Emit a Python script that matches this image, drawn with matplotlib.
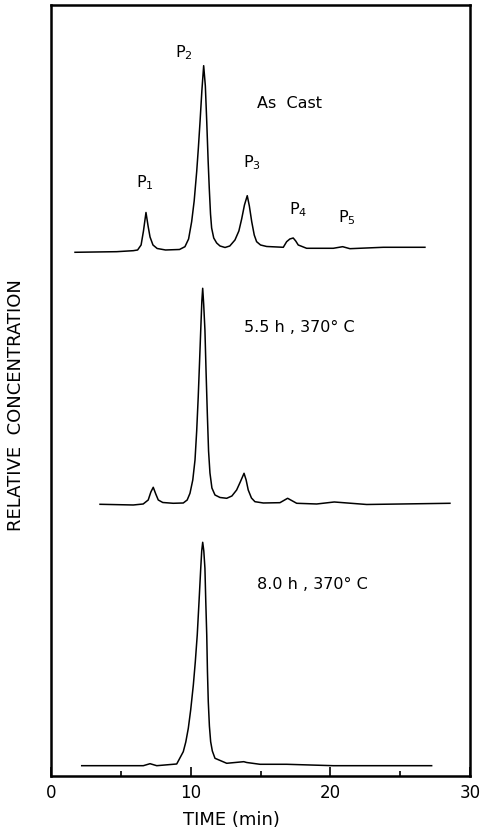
import matplotlib
matplotlib.use("Agg")
import matplotlib.pyplot as plt
from matplotlib.ticker import MultipleLocator

# traces: time (min), signal (arbitrary, offset per trace)
t_cast = [1.72, 4.70, 5.89, 6.20, 6.45, 6.62, 6.80, 6.95, 7.09, 7.30, 7.60, 8.20, 9.20,
          9.59, 9.85, 10.07, 10.25, 10.43, 10.55, 10.67, 10.80, 10.93, 11.05, 11.15, 11.25,
          11.33, 11.42, 11.50, 11.65, 11.86, 12.10, 12.46, 12.80, 13.17, 13.45, 13.65, 13.85,
          14.05, 14.20, 14.37, 14.55, 14.72, 15.00, 15.44, 16.63, 16.87, 17.10, 17.34, 17.52,
          17.70, 18.30, 20.21, 20.88, 21.40, 23.79, 26.77]
y_cast = [523.7, 524.3, 525.3, 526.0, 531.0, 545.0, 563.5, 550.0, 539.0, 531.0, 527.5, 526.0, 526.5,
          529.3, 537.0, 554.3, 575.0, 604.3, 628.0, 654.3, 685.0, 710.3, 690.0, 654.3, 615.0,
          588.0, 562.0, 548.0, 538.0, 533.0, 530.0, 528.5, 530.0, 536.0, 545.0, 557.0, 571.0,
          580.3, 570.0, 554.3, 541.0, 534.3, 531.0, 529.5, 528.7, 534.3, 537.0, 538.0, 535.0,
          531.0, 527.7, 527.7, 529.3, 527.3, 528.7, 528.7]

t_55h = [3.51, 5.89, 6.60, 6.96, 7.15, 7.32, 7.50, 7.68, 8.00, 8.75, 9.47, 9.75, 9.95,
         10.15, 10.31, 10.43, 10.54, 10.63, 10.72, 10.80, 10.86, 10.93, 11.02, 11.10, 11.19,
         11.28, 11.38, 11.52, 11.74, 12.10, 12.58, 12.95, 13.29, 13.55, 13.82, 13.97, 14.12,
         14.35, 14.60, 15.20, 16.39, 16.94, 17.59, 19.02, 20.28, 22.60, 28.56]
y_55h = [271.7, 271.0, 272.0, 276.0, 284.0, 288.7, 282.0, 276.0, 273.5, 272.7, 273.0, 276.0, 282.7,
         296.0, 316.0, 345.0, 379.0, 412.0, 446.0, 475.0, 487.7, 472.0, 446.0, 405.0, 363.0,
         325.0, 303.0, 288.0, 281.0, 278.5, 277.7, 280.0, 286.0, 294.0, 302.7, 296.0, 286.0,
         278.0, 274.3, 273.0, 273.3, 277.7, 272.7, 272.0, 274.0, 271.5, 272.7]

t_80h = [2.20, 6.61, 7.09, 7.57, 9.00, 9.47, 9.65, 9.83, 10.00, 10.19, 10.33, 10.47, 10.60,
         10.72, 10.79, 10.86, 10.94, 11.02, 11.08, 11.15, 11.20, 11.26, 11.34, 11.43, 11.55,
         11.74, 12.58, 13.80, 14.01, 14.96, 16.87, 20.21, 27.25]
y_80h = [10.3, 10.3, 12.3, 10.3, 12.0, 24.3, 34.0, 47.7, 66.0, 91.0, 114.0, 141.0, 175.0,
         207.7, 225.0, 233.7, 225.0, 207.7, 175.0, 141.0, 105.0, 74.3, 50.0, 34.3, 25.0,
         17.7, 12.7, 14.3, 13.5, 11.7, 11.7, 10.3, 10.3]

peak_labels = ["P$_1$", "P$_2$", "P$_3$", "P$_4$", "P$_5$"]
peak_label_t = [6.73, 9.5, 14.4, 17.7, 21.2]
peak_label_y = [593, 723, 613, 566, 558]

cond_labels = ["As  Cast", "5.5 h , 370° C", "8.0 h , 370° C"]
cond_t = [17.1, 17.8, 18.7]
cond_y = [672, 448, 191]

plt.rcParams['font.family'] = ['DejaVu Sans']

fig = plt.figure(figsize=(4.82, 8.31), dpi=100)
ax = fig.add_axes([0.1058, 0.0662, 0.8694, 0.9278])

for t, y in [(t_cast, y_cast), (t_55h, y_55h), (t_80h, y_80h)]:
    ax.plot(t, y, color='black', lw=1.1)

for lab, t, y in zip(peak_labels, peak_label_t, peak_label_y):
    ax.text(t, y, lab, ha='center', va='center', fontsize=11.5)
for lab, t, y in zip(cond_labels, cond_t, cond_y):
    ax.text(t, y, lab, ha='center', va='center', fontsize=11.5)

ax.set_xlim(0, 30)
ax.set_ylim(0, 771)
ax.xaxis.set_major_locator(MultipleLocator(10))
ax.xaxis.set_minor_locator(MultipleLocator(5))
ax.tick_params(axis='x', which='major', direction='in', length=6.5, width=1.2,
               labelsize=12, pad=6)
ax.tick_params(axis='x', which='minor', direction='in', length=3.6, width=1.2)
ax.set_yticks([])
for s in ax.spines.values():
    s.set_linewidth(1.8)

ax.set_xlabel("TIME (min)", fontsize=13)
ax.xaxis.set_label_coords(0.43, -0.045)
ax.set_ylabel("RELATIVE  CONCENTRATION", fontsize=13)
ax.yaxis.set_label_coords(-0.062, 0.481)

fig.savefig("out.png", dpi=100)
